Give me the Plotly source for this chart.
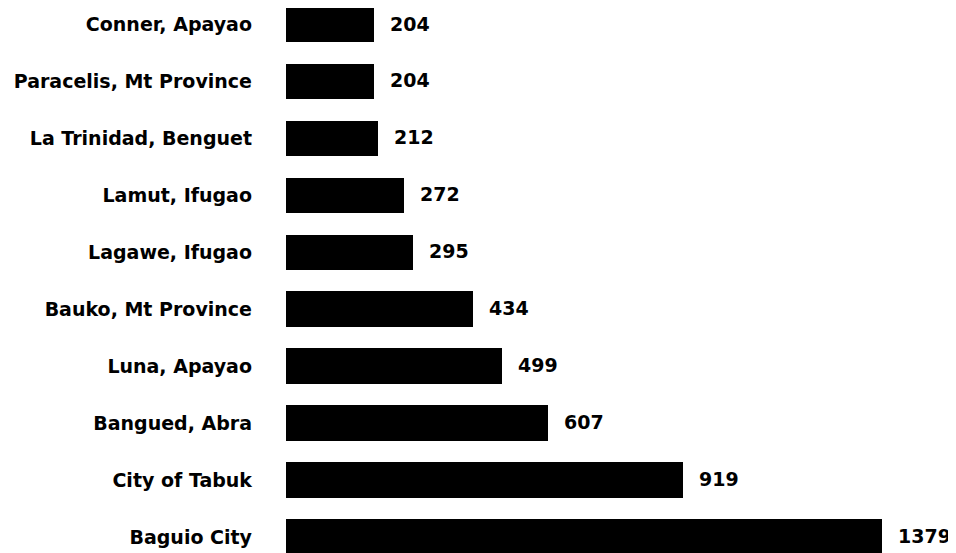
import plotly.graph_objects as go

places = ["Conner, Apayao", "Paracelis, Mt Province", "La Trinidad, Benguet",
          "Lamut, Ifugao", "Lagawe, Ifugao", "Bauko, Mt Province",
          "Luna, Apayao", "Bangued, Abra", "City of Tabuk", "Baguio City"]
counts = [204, 204, 212, 272, 295, 434, 499, 607, 919, 1379]

FONT = "DejaVu Sans, Liberation Sans, Arial, sans-serif"

fig = go.Figure()
fig.add_trace(go.Bar(
    x=counts, y=places, orientation="h",
    marker=dict(color="#000000", line=dict(width=0)),
    width=0.625, hoverinfo="skip", cliponaxis=False,
))

for p, c in zip(places, counts):
    fig.add_annotation(x=c, y=p, text=f"<b>{c}</b>", showarrow=False,
                       xanchor="left", yanchor="middle", xshift=14, yshift=1,
                       font=dict(family=FONT, size=19, color="#000"))

# page body adds an 8px offset; figure sized to fit the visible window
fig.update_layout(
    width=948, height=545,
    margin=dict(l=278, r=0, t=0, b=0, autoexpand=False),
    paper_bgcolor="white", plot_bgcolor="white",
    showlegend=False,
    bargap=0,
    xaxis=dict(range=[0, 670 / 0.432], visible=False, fixedrange=True,
               automargin=False),
    yaxis=dict(
        type="category", categoryorder="array", categoryarray=places,
        range=[9.279, -0.2897], automargin=False,
        showgrid=False, zeroline=False, showline=False, ticks="",
        tickfont=dict(family=FONT, size=19, color="#000", weight="bold"),
        ticklabelstandoff=33,
    ),
)

fig.write_html("out.html")
